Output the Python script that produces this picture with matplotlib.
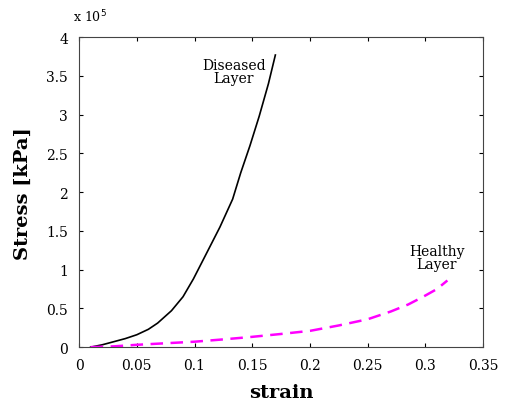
import matplotlib
matplotlib.use("Agg")
import matplotlib.pyplot as plt

# strain vs stress (stress in units of 1e5 kPa)
diseased_strain = [0.010, 0.020, 0.030, 0.040, 0.050, 0.060, 0.068, 0.080, 0.090, 0.099, 0.110, 0.122, 0.133, 0.140, 0.148, 0.156, 0.164, 0.170]
diseased_stress = [0.00, 0.03, 0.07, 0.11, 0.16, 0.23, 0.31, 0.47, 0.65, 0.88, 1.20, 1.55, 1.91, 2.25, 2.60, 2.98, 3.40, 3.77]

healthy_strain = [0.010, 0.030, 0.050, 0.075, 0.100, 0.125, 0.148, 0.175, 0.200, 0.225, 0.250, 0.270, 0.285, 0.298, 0.310, 0.319]
healthy_stress = [0.00, 0.01, 0.03, 0.05, 0.07, 0.10, 0.13, 0.17, 0.21, 0.28, 0.36, 0.46, 0.55, 0.65, 0.75, 0.86]

xticks = [0, 0.05, 0.1, 0.15, 0.2, 0.25, 0.3, 0.35]
yticks = [0, 0.5, 1, 1.5, 2, 2.5, 3, 3.5, 4]

plt.rcParams['font.family'] = ['DejaVu Serif']

fig = plt.figure(figsize=(5.07, 4.02), dpi=100)
ax = fig.add_axes([0.156, 0.134, 0.797, 0.771])

ax.plot(diseased_strain, diseased_stress, color='black', lw=1.2)
ax.plot(healthy_strain, healthy_stress, color='magenta', lw=1.8, ls=(0, (5, 3)))

ax.set_xlim(0, 0.35)
ax.set_ylim(0, 4)
ax.set_xticks(xticks)
ax.set_xticklabels(['%g' % t for t in xticks])
ax.set_yticks(yticks)
ax.set_yticklabels(['%g' % t for t in yticks])
ax.tick_params(direction='in', top=True, right=True, labelsize=10, length=3, pad=8)
for s in ax.spines.values():
    s.set_color('#444444')

ax.set_xlabel('strain', fontsize=14, fontweight='bold', labelpad=8)
ax.set_ylabel('Stress [kPa]', fontsize=14, fontweight='bold', labelpad=10)

ax.text(0.009, 4.27, r'x 10$^5$', fontsize=9, ha='center', va='center')

ax.text(0.134, 3.56, 'Diseased\nLayer', fontsize=10, ha='center', va='center', linespacing=0.95)
ax.text(0.310, 1.16, 'Healthy\nLayer', fontsize=10, ha='center', va='center', linespacing=0.95)

fig.savefig('out.png', dpi=100)
